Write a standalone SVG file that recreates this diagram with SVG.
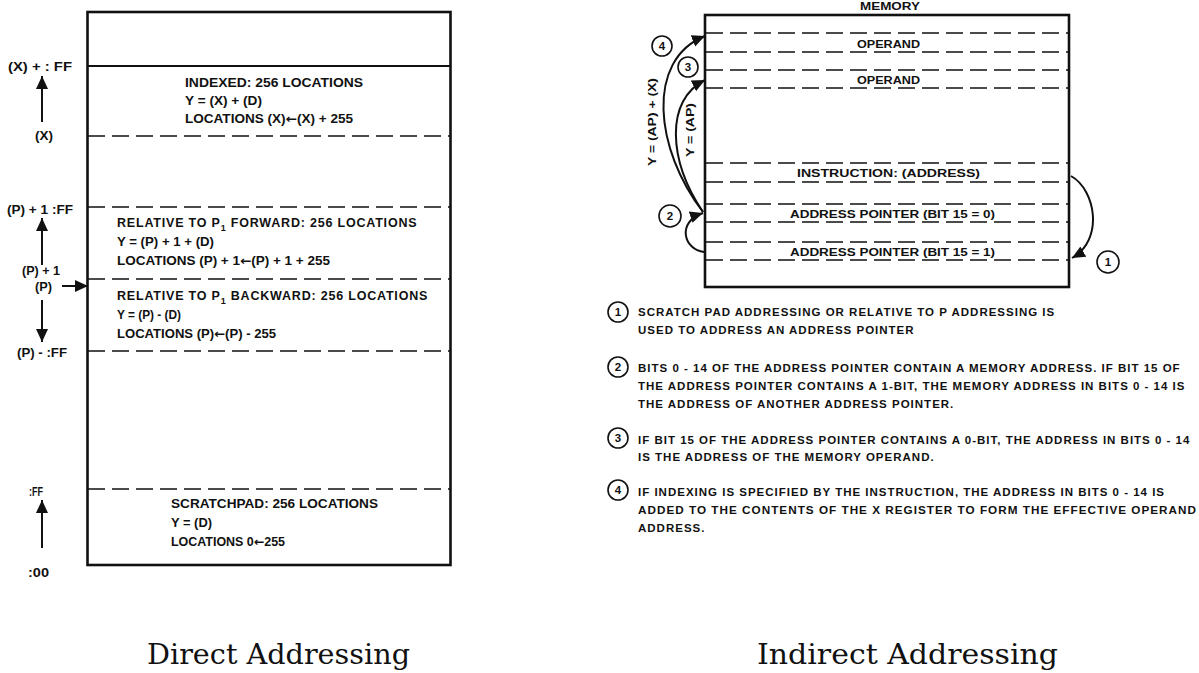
<svg xmlns="http://www.w3.org/2000/svg" width="1199" height="673" viewBox="0 0 1199 673">
<style>
.t{font-family:"Liberation Sans",Arial,sans-serif;font-weight:bold;font-size:12.5px;fill:#111}
.n{font-family:"Liberation Sans",Arial,sans-serif;font-weight:bold;font-size:11.5px;fill:#111}
.nt{font-family:"Liberation Sans",Arial,sans-serif;font-weight:bold;font-size:11.5px;letter-spacing:1px;fill:#111}
.ar{font-family:"DejaVu Sans",sans-serif;font-weight:bold}
.cap{font-family:"DejaVu Serif","Liberation Serif",serif;font-size:27px;fill:#111}
.box{fill:none;stroke:#111;stroke-width:2.6}
.solid{stroke:#111;stroke-width:2.2;fill:none}
.dash{stroke:#111;stroke-width:1.7;stroke-dasharray:17 7;fill:none}
.arr{stroke:#111;stroke-width:2;fill:none;marker-end:url(#ah)}
.circ{fill:#fff;stroke:#111;stroke-width:1.6}
</style>
<defs>
<marker id="ah" markerUnits="userSpaceOnUse" markerWidth="14" markerHeight="14" refX="13" refY="7" orient="auto">
<path d="M0,1 L13,7 L0,13 z" fill="#111"/>
</marker>
</defs>

<g id="direct-memory">
<rect class="box" x="87.5" y="12" width="363" height="553"/>
<line class="solid" x1="87" y1="66" x2="451" y2="66"/>
<line class="dash" x1="88" y1="136" x2="450" y2="136"/>
<line class="dash" x1="88" y1="207" x2="450" y2="207"/>
<line class="dash" x1="88" y1="279" x2="450" y2="279"/>
<line class="dash" x1="88" y1="351" x2="450" y2="351"/>
<line class="dash" x1="88" y1="489" x2="450" y2="489"/>
</g>

<g id="indexed">
<text class="t" x="185" y="87" textLength="178" lengthAdjust="spacingAndGlyphs">INDEXED:  256 LOCATIONS</text>
<text class="t" x="185" y="105" textLength="77" lengthAdjust="spacingAndGlyphs">Y = (X) + (D)</text>
<text class="t" x="185" y="123" textLength="168" lengthAdjust="spacingAndGlyphs">LOCATIONS (X)<tspan class="ar">←</tspan>(X) + 255</text>
</g>

<g id="relative-forward">
<text class="t" x="117" y="227" letter-spacing="0.8">RELATIVE TO P<tspan font-size="9" dy="4">1</tspan><tspan dy="-4"> FORWARD:  256 LOCATIONS</tspan></text>
<text class="t" x="117" y="246" textLength="97" lengthAdjust="spacingAndGlyphs">Y = (P) + 1 + (D)</text>
<text class="t" x="117" y="265" textLength="213" lengthAdjust="spacingAndGlyphs">LOCATIONS (P) + 1<tspan class="ar">←</tspan>(P) + 1 + 255</text>
</g>

<g id="relative-backward">
<text class="t" x="117" y="300" letter-spacing="0.8">RELATIVE TO P<tspan font-size="9" dy="4">1</tspan><tspan dy="-4"> BACKWARD:  256 LOCATIONS</tspan></text>
<text class="t" x="117" y="319" textLength="64" lengthAdjust="spacingAndGlyphs">Y = (P) - (D)</text>
<text class="t" x="117" y="338" textLength="159" lengthAdjust="spacingAndGlyphs">LOCATIONS (P)<tspan class="ar">←</tspan>(P) - 255</text>
</g>

<g id="scratchpad">
<text class="t" x="171" y="508" textLength="207" lengthAdjust="spacingAndGlyphs">SCRATCHPAD:  256 LOCATIONS</text>
<text class="t" x="171" y="527" textLength="41" lengthAdjust="spacingAndGlyphs">Y = (D)</text>
<text class="t" x="171" y="546" textLength="114" lengthAdjust="spacingAndGlyphs">LOCATIONS 0<tspan class="ar">←</tspan>255</text>
</g>

<g id="address-labels">
<text class="t" x="8" y="71" textLength="64" lengthAdjust="spacingAndGlyphs">(X) + : FF</text>
<text class="t" x="35" y="140" textLength="18" lengthAdjust="spacingAndGlyphs">(X)</text>
<text class="t" x="7" y="214" textLength="66" lengthAdjust="spacingAndGlyphs">(P) + 1 :FF</text>
<text class="t" x="22" y="275" textLength="38" lengthAdjust="spacingAndGlyphs">(P) + 1</text>
<text class="t" x="35" y="291" textLength="17" lengthAdjust="spacingAndGlyphs">(P)</text>
<text class="t" x="17" y="357" textLength="50" lengthAdjust="spacingAndGlyphs">(P) - :FF</text>
<text class="t" x="29" y="496" textLength="14" lengthAdjust="spacingAndGlyphs">:FF</text>
<text class="t" x="28" y="577" textLength="21" lengthAdjust="spacingAndGlyphs">:00</text>
</g>

<g id="indirect-memory">
<text class="n" x="890" y="10" text-anchor="middle" textLength="60" lengthAdjust="spacingAndGlyphs">MEMORY</text>
<rect class="box" x="705" y="15" width="364" height="272"/>
<line class="dash" x1="706" y1="33" x2="1068" y2="33"/>
<line class="dash" x1="706" y1="52" x2="1068" y2="52"/>
<line class="dash" x1="706" y1="70" x2="1068" y2="70"/>
<line class="dash" x1="706" y1="88" x2="1068" y2="88"/>
<line class="dash" x1="706" y1="163" x2="1068" y2="163"/>
<line class="dash" x1="706" y1="182" x2="1068" y2="182"/>
<line class="dash" x1="706" y1="204" x2="1068" y2="204"/>
<line class="dash" x1="706" y1="222" x2="1068" y2="222"/>
<line class="dash" x1="706" y1="242" x2="1068" y2="242"/>
<line class="dash" x1="706" y1="260" x2="1068" y2="260"/>
<text class="n" x="857" y="48" textLength="63" lengthAdjust="spacingAndGlyphs">OPERAND</text>
<text class="n" x="857" y="84" textLength="63" lengthAdjust="spacingAndGlyphs">OPERAND</text>
<text class="n" x="797" y="177" textLength="183" lengthAdjust="spacingAndGlyphs">INSTRUCTION:  (ADDRESS)</text>
<text class="n" x="790" y="218" textLength="205" lengthAdjust="spacingAndGlyphs">ADDRESS POINTER (BIT 15 = 0)</text>
<text class="n" x="790" y="256" textLength="205" lengthAdjust="spacingAndGlyphs">ADDRESS POINTER (BIT 15 = 1)</text>
</g>

<g id="connectors">
<path class="arr" d="M42,122 L42,76"/>
<path class="arr" d="M42,265 L42,218"/>
<path class="arr" d="M62,286 L88,286"/>
<path class="arr" d="M42,300 L42,342"/>
<path class="arr" d="M42,548 L42,500"/>
<path class="arr" d="M1071,176 C1096,190 1104,240 1072,258"/>
<path class="arr" d="M704,252 C684,250 676,222 703,213"/>
<path class="arr" d="M703,212 C668,160 665,100 705,80"/>
<path class="arr" d="M703,212 C655,150 645,60 705,36"/>
<text class="n" transform="translate(656,122) rotate(-90)" text-anchor="middle" textLength="88" lengthAdjust="spacingAndGlyphs">Y = (AP) + (X)</text>
<text class="n" transform="translate(694,130) rotate(-90)" text-anchor="middle" textLength="54" lengthAdjust="spacingAndGlyphs">Y = (AP)</text>
</g>

<g id="step-markers">
<g id="m4"><circle class="circ" cx="662" cy="46" r="10"/><text class="n" x="662" y="50" text-anchor="middle">4</text></g>
<g id="m3"><circle class="circ" cx="688" cy="67" r="10"/><text class="n" x="688" y="71" text-anchor="middle">3</text></g>
<g id="m2"><circle class="circ" cx="670" cy="216" r="11"/><text class="n" x="670" y="220" text-anchor="middle">2</text></g>
<g id="m1"><circle class="circ" cx="1108" cy="262" r="11"/><text class="n" x="1108" y="266" text-anchor="middle">1</text></g>
</g>

<g id="notes">
<g id="note1">
<circle class="circ" cx="618" cy="312" r="10"/><text class="n" x="618" y="316" text-anchor="middle">1</text>
<text class="nt" x="638" y="316">SCRATCH  PAD ADDRESSING OR RELATIVE TO P ADDRESSING IS</text>
<text class="nt" x="638" y="334">USED TO ADDRESS AN ADDRESS POINTER</text>
</g>
<g id="note2">
<circle class="circ" cx="618" cy="367" r="10"/><text class="n" x="618" y="371" text-anchor="middle">2</text>
<text class="nt" x="638" y="372">BITS 0 - 14 OF THE ADDRESS POINTER CONTAIN A MEMORY ADDRESS.  IF BIT 15 OF</text>
<text class="nt" x="638" y="390">THE ADDRESS POINTER CONTAINS A 1-BIT, THE MEMORY ADDRESS IN BITS 0 - 14 IS</text>
<text class="nt" x="638" y="408">THE ADDRESS OF ANOTHER ADDRESS POINTER.</text>
</g>
<g id="note3">
<circle class="circ" cx="618" cy="438" r="10"/><text class="n" x="618" y="442" text-anchor="middle">3</text>
<text class="nt" x="638" y="444">IF BIT 15 OF THE ADDRESS POINTER CONTAINS A 0-BIT, THE ADDRESS IN BITS 0 - 14</text>
<text class="nt" x="638" y="461">IS THE ADDRESS OF THE MEMORY OPERAND.</text>
</g>
<g id="note4">
<circle class="circ" cx="618" cy="490" r="10"/><text class="n" x="618" y="494" text-anchor="middle">4</text>
<text class="nt" x="638" y="496">IF INDEXING IS SPECIFIED BY THE INSTRUCTION, THE ADDRESS IN BITS 0 - 14 IS</text>
<text class="nt" x="638" y="514" textLength="559" lengthAdjust="spacingAndGlyphs">ADDED TO THE CONTENTS OF THE X REGISTER TO FORM THE EFFECTIVE OPERAND</text>
<text class="nt" x="638" y="532">ADDRESS.</text>
</g>
</g>

<g id="captions">
<text class="cap" x="147" y="664" textLength="263" lengthAdjust="spacingAndGlyphs">Direct Addressing</text>
<text class="cap" x="757" y="664" textLength="301" lengthAdjust="spacingAndGlyphs">Indirect Addressing</text>
</g>
</svg>
